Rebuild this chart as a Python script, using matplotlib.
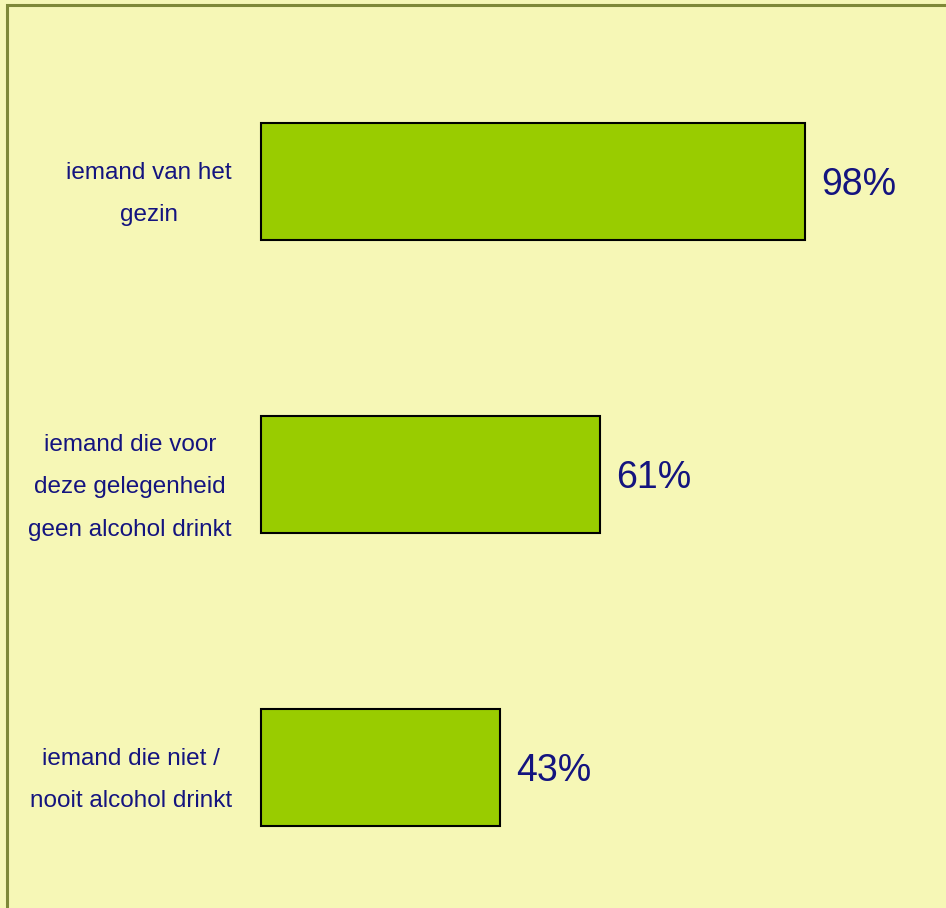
import matplotlib
matplotlib.use('Agg')
import matplotlib.pyplot as plt
from matplotlib.patches import Rectangle

# ===== DATA =====
labels = ['iemand van het\ngezin',
          'iemand die voor\ndeze gelegenheid\ngeen alcohol drinkt',
          'iemand die niet /\nnooit alcohol drinkt']
values = [98, 61, 43]

BG = '#F6F7B6'; BAR = '#99CC00'; TXT = '#14147F'; BORDER = '#7E8838'
fam = 'Liberation Sans'

fig = plt.figure(figsize=(9.46, 9.08), dpi=100, facecolor=BG)
ax = fig.add_axes([261/946, 0, 685/946, 1])
ax.set_facecolor(BG)

ypos = [2, 1, 0]
ax.barh(ypos, values, height=0.4, color=BAR, edgecolor='black', linewidth=1.5, clip_on=False)
for y, v in zip(ypos, values):
    ax.text(v + 3, y - 0.012, f'{v}%', va='center', ha='left', fontsize=27, color=TXT, family=fam)

ax.set_xlim(0, 685/5.55)
ax.set_ylim(-140.5/293, (908-140.5)/293)
ax.set_yticks(ypos)
ax.set_yticklabels(labels, fontsize=17.5, color=TXT, family=fam, multialignment='center', linespacing=2.2)
ax.tick_params(axis='y', length=0, pad=21)
ax.set_xticks([])
for s in ax.spines.values():
    s.set_visible(False)

# frame line at left/top
fig.add_artist(Rectangle((7/946, -0.1), 1.2, 1.1 - 5/908, transform=fig.transFigure,
                         fill=False, edgecolor=BORDER, linewidth=2.2))

plt.savefig('out.png', dpi=100, facecolor=BG)
